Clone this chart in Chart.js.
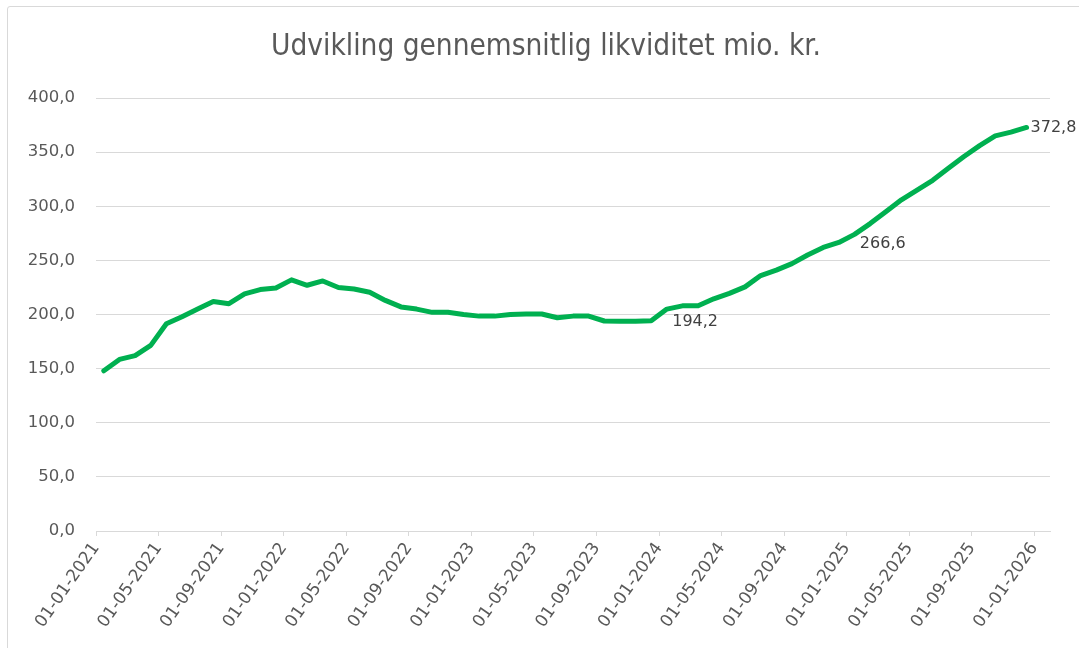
<!DOCTYPE html>
<html>
<head>
<meta charset="utf-8">
<script src="https://cdn.jsdelivr.net/npm/chart.js@4/dist/chart.umd.min.js"></script>
<style>
  html, body { margin: 0; padding: 0; background: #fff; overflow: hidden; }
  .frame { position: absolute; left: 7px; top: 6px; width: 1100px; height: 700px; border: 1px solid #d9d9d9; border-radius: 3px; }
  .wrap { position: absolute; left: 0; top: 0; width: 1079px; height: 648px; }
</style>
</head>
<body>
<div class="frame"></div>
<div class="wrap"><canvas id="chart"></canvas></div>
<script>
// monthly average liquidity, Jan 2021 - Dec 2025 (mio. kr.)
const months = [
    '01-01-2021', '01-02-2021', '01-03-2021', '01-04-2021', '01-05-2021', '01-06-2021',
    '01-07-2021', '01-08-2021', '01-09-2021', '01-10-2021', '01-11-2021', '01-12-2021',
    '01-01-2022', '01-02-2022', '01-03-2022', '01-04-2022', '01-05-2022', '01-06-2022',
    '01-07-2022', '01-08-2022', '01-09-2022', '01-10-2022', '01-11-2022', '01-12-2022',
    '01-01-2023', '01-02-2023', '01-03-2023', '01-04-2023', '01-05-2023', '01-06-2023',
    '01-07-2023', '01-08-2023', '01-09-2023', '01-10-2023', '01-11-2023', '01-12-2023',
    '01-01-2024', '01-02-2024', '01-03-2024', '01-04-2024', '01-05-2024', '01-06-2024',
    '01-07-2024', '01-08-2024', '01-09-2024', '01-10-2024', '01-11-2024', '01-12-2024',
    '01-01-2025', '01-02-2025', '01-03-2025', '01-04-2025', '01-05-2025', '01-06-2025',
    '01-07-2025', '01-08-2025', '01-09-2025', '01-10-2025', '01-11-2025', '01-12-2025'
];
const liquidity = [
    148, 158.5, 162, 171.5, 191.5, 198, 205, 212, 210, 219, 223, 224.5,
    232, 227, 231, 225, 223.5, 220.5, 213, 207, 205, 202, 202, 200,
    198.5, 198.5, 200, 200.5, 200.5, 197, 198.5, 198.5, 194, 193.7, 193.7, 194.2,
    205, 208, 208, 214.5, 219.5, 225.5, 236, 241, 247, 255, 262, 266.6,
    274, 284, 295, 306, 315, 324, 335, 346, 356, 365, 368.5, 372.8
];
// x-axis labels, one every 4 months
const tickLabels = [
    '01-01-2021', '01-05-2021', '01-09-2021', '01-01-2022', '01-05-2022', '01-09-2022',
    '01-01-2023', '01-05-2023', '01-09-2023', '01-01-2024', '01-05-2024', '01-09-2024',
    '01-01-2025', '01-05-2025', '01-09-2025', '01-01-2026'
];
// year-end values that carry a data label
const labelledMonths = ['01-12-2023', '01-12-2024', '01-12-2025'];
const chartTitle = 'Udvikling gennemsnitlig likviditet mio. kr.';

const green = '#00b050';
const grey = '#595959';
const gridGrey = '#d9d9d9';
const font = '"DejaVu Sans", Arial, sans-serif';

const fmt = v => v.toFixed(1).replace('.', ',');

// Excel date axis: each month is one unit, points sit mid-month
const points = liquidity.map((v, i) => ({ x: i + 0.5, y: v }));

const pointLabels = {
    id: 'pointLabels',
    afterDatasetsDraw(chart) {
        const ctx = chart.ctx;
        const meta = chart.getDatasetMeta(0);
        ctx.save();
        ctx.font = '16px ' + font;
        ctx.fillStyle = '#404040';
        ctx.textBaseline = 'middle';
        ctx.textAlign = 'left';
        labelledMonths.forEach((m, k) => {
            const i = months.indexOf(m);
            const el = meta.data[i];
            const last = k === labelledMonths.length - 1;
            const dx = last ? 4 : 21;
            const dy = last ? 0 : 1;
            ctx.fillText(fmt(liquidity[i]), el.x + dx, el.y + dy);
        });
        ctx.restore();
    }
};

// title centred on the outer chart frame, like Excel does
const frameTitle = {
    id: 'frameTitle',
    afterDraw(chart) {
        const ctx = chart.ctx;
        ctx.save();
        ctx.font = '29.5px "DejaVu Sans Condensed", "DejaVu Sans", sans-serif';
        ctx.fillStyle = grey;
        ctx.textAlign = 'center';
        ctx.textBaseline = 'middle';
        ctx.fillText(chartTitle, 546, 47);
        ctx.restore();
    }
};

new Chart(document.getElementById('chart'), {
    type: 'line',
    data: {
        datasets: [{
            label: 'Likviditet',
            data: points,
            borderColor: green,
            borderWidth: 5,
            pointRadius: 0,
            tension: 0,
            borderJoinStyle: 'round',
            borderCapStyle: 'round'
        }]
    },
    options: {
        responsive: true,
        maintainAspectRatio: false,
        animation: false,
        layout: { padding: { left: 0, right: 29, top: 98, bottom: 0 } },
        scales: {
            x: {
                type: 'linear',
                min: 0,
                max: months.length + 1,
                afterBuildTicks: scale => {
                    scale.ticks = tickLabels.map((_, k) => ({ value: k * 4 }));
                },
                afterFit: scale => { scale.height = 117; },
                ticks: {
                    callback: v => tickLabels[v / 4],
                    minRotation: 55,
                    maxRotation: 55,
                    autoSkip: false,
                    color: grey,
                    padding: 3,
                    font: { family: font, size: 17 }
                },
                grid: { drawOnChartArea: false, drawTicks: true, tickLength: 5, color: gridGrey },
                border: { display: true, color: gridGrey, width: 1 }
            },
            y: {
                min: 0,
                max: 400,
                afterBuildTicks: scale => {
                    scale.ticks = [0, 50, 100, 150, 200, 250, 300, 350, 400].map(v => ({ value: v }));
                },
                afterFit: scale => { scale.width = 96; },
                ticks: {
                    callback: v => fmt(v),
                    color: grey,
                    padding: 21,
                    font: { family: font, size: 16.5 }
                },
                grid: { color: gridGrey, drawTicks: false, lineWidth: 1 },
                border: { display: false }
            }
        },
        plugins: {
            legend: { display: false },
            tooltip: { enabled: false },
            title: { display: false }
        }
    },
    plugins: [pointLabels, frameTitle]
});
</script>
</body>
</html>
